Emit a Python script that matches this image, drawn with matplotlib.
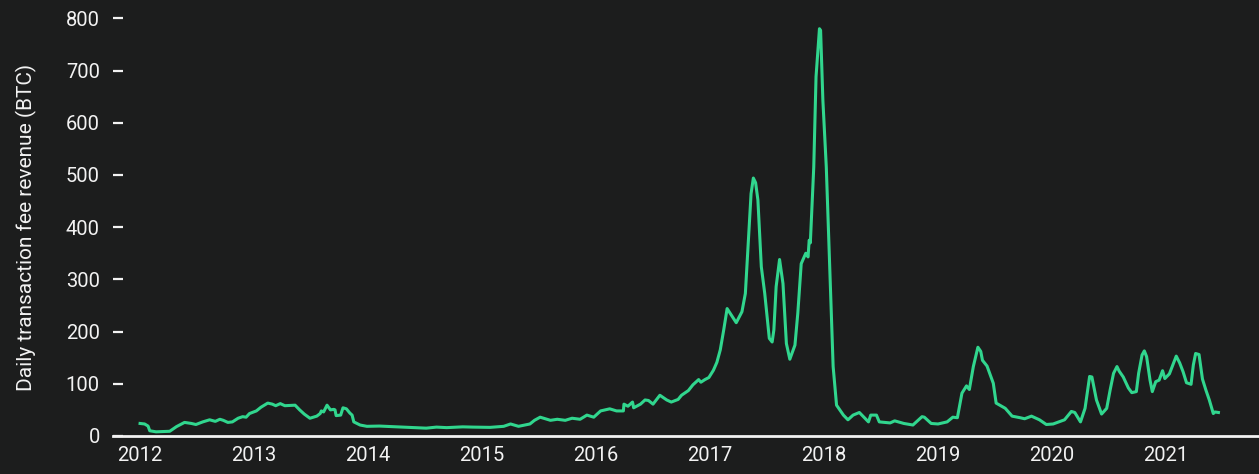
"""
Daily bitcoin transaction fee revenue, 2012-2021
"""
import matplotlib
matplotlib.use("Agg")
import matplotlib.pyplot as plt

# (decimal year, BTC)
years = [
    2012.00, 2012.04, 2012.07, 2012.085, 2012.14, 2012.26, 2012.32, 2012.39,
    2012.45, 2012.49, 2012.55, 2012.61, 2012.66, 2012.70, 2012.73, 2012.77,
    2012.81, 2012.86, 2012.90, 2012.93, 2012.96, 2013.02, 2013.06, 2013.12,
    2013.16, 2013.19, 2013.23, 2013.27, 2013.36, 2013.40, 2013.44, 2013.49,
    2013.55, 2013.58, 2013.59, 2013.61, 2013.64, 2013.67, 2013.70, 2013.71,
    2013.72, 2013.76, 2013.78, 2013.81, 2013.84, 2013.86, 2013.875, 2013.93,
    2013.99, 2014.10, 2014.25, 2014.39, 2014.51, 2014.60, 2014.69, 2014.83,
    2014.92, 2015.07, 2015.19, 2015.25, 2015.32, 2015.42, 2015.46, 2015.51,
    2015.60, 2015.66, 2015.73, 2015.79, 2015.86, 2015.92, 2015.98, 2016.04,
    2016.12, 2016.18, 2016.24, 2016.245, 2016.28, 2016.32, 2016.33, 2016.39,
    2016.43, 2016.46, 2016.50, 2016.56, 2016.62, 2016.66, 2016.72, 2016.75,
    2016.81, 2016.85, 2016.90, 2016.92, 2016.955, 2016.99, 2017.03, 2017.06,
    2017.09, 2017.12, 2017.15, 2017.23, 2017.28, 2017.31, 2017.34, 2017.36,
    2017.38, 2017.40, 2017.42, 2017.45, 2017.48, 2017.52, 2017.545, 2017.56,
    2017.58, 2017.61, 2017.64, 2017.67, 2017.70, 2017.745, 2017.77, 2017.80,
    2017.84, 2017.86, 2017.87, 2017.88, 2017.91, 2017.93, 2017.96, 2017.97,
    2017.99, 2018.02, 2018.05, 2018.08, 2018.11, 2018.17, 2018.21, 2018.255,
    2018.31, 2018.39, 2018.41, 2018.46, 2018.485, 2018.58, 2018.62, 2018.70,
    2018.78, 2018.86, 2018.88, 2018.94, 2019.00, 2019.08, 2019.13, 2019.17,
    2019.21, 2019.25, 2019.275, 2019.31, 2019.35, 2019.375, 2019.39, 2019.43,
    2019.485, 2019.51, 2019.59, 2019.65, 2019.72, 2019.76, 2019.82, 2019.89,
    2019.95, 2020.01, 2020.11, 2020.17, 2020.20, 2020.25, 2020.29, 2020.33,
    2020.35, 2020.39, 2020.435, 2020.48, 2020.51, 2020.54, 2020.57, 2020.59,
    2020.625, 2020.67, 2020.70, 2020.74, 2020.76, 2020.79, 2020.81, 2020.83,
    2020.86, 2020.88, 2020.91, 2020.94, 2020.97, 2020.99, 2021.03, 2021.06,
    2021.09, 2021.12, 2021.15, 2021.18, 2021.22, 2021.24, 2021.26, 2021.29,
    2021.32, 2021.35, 2021.38, 2021.415, 2021.43, 2021.46,
]
fees = [
    24, 23, 19, 10, 8, 9, 18, 26,
    24, 22, 27, 31, 28, 32, 30, 26,
    27, 34, 37, 36, 43, 48, 55, 63,
    61, 58, 62, 58, 59, 50, 42, 34,
    38, 43, 48, 46, 59, 50, 51, 50,
    39, 40, 54, 52, 44, 40, 27, 21,
    18.5, 19, 17.5, 16, 15, 17, 16, 17.5,
    17, 16.5, 18.5, 23, 18.5, 23, 30, 36,
    30, 32, 30, 34, 32, 40, 36, 48,
    52, 48, 48, 61, 57, 65, 54, 61,
    69, 68, 61, 78, 69, 65, 70, 78,
    87, 98, 108, 103, 108, 112, 126, 141,
    165, 203, 244, 217, 238, 273, 388, 464,
    494, 485, 452, 324, 273, 187, 180, 203,
    286, 338, 292, 177, 147, 174, 235, 330,
    350, 343, 375, 370, 515, 688, 780, 777,
    643, 515, 324, 133, 59, 40, 31, 40,
    45, 27, 40, 40, 27, 25, 29, 24,
    21, 37, 36, 24, 23, 27, 36, 35,
    82, 96, 89, 133, 170, 162, 145, 134,
    101, 63, 53, 38, 35, 33, 38, 31,
    22, 23, 31, 47, 45, 27, 53, 114,
    113, 69, 42, 53, 88, 120, 133, 124,
    113, 92, 83, 85, 120, 155, 163, 152,
    107, 85, 104, 107, 125, 110, 119, 136,
    153, 140, 123, 102, 99, 136, 158, 156,
    109, 88, 69, 43, 46, 45,
]

year_ticks = list(range(2012, 2022))
fee_ticks = list(range(0, 801, 100))

bg = '#1c1d1d'
fg = '#f2f2f2'
green = '#31d68e'

plt.rcParams['font.family'] = ['Roboto', 'DejaVu Sans']

fig = plt.figure(figsize=(12.59, 4.74), dpi=100, facecolor=bg)
ax = fig.add_axes([0.0898, 0.0802, 0.9102, 0.8812], facecolor=bg)

ax.plot(years, fees, color=green, lw=2.2, solid_joinstyle='round', clip_on=False)

ax.set_xlim(2011.763, 2021.816)
ax.set_ylim(0, 800)
ax.set_xticks(year_ticks)
ax.set_xticklabels([str(y) for y in year_ticks])
ax.set_yticks(fee_ticks)

for s in ['top', 'right', 'left']:
    ax.spines[s].set_visible(False)
ax.spines['bottom'].set_color(fg)
ax.spines['bottom'].set_linewidth(2.0)

ax.tick_params(axis='x', length=0, pad=7, colors=fg, labelsize=14.5)
ax.tick_params(axis='y', direction='in', length=7, width=1.6, pad=9.5,
               colors=fg, labelsize=14.5)

ax.set_ylabel('Daily transaction fee revenue (BTC)', color=fg, fontsize=15)
ax.yaxis.set_label_coords(-0.066, 0.5)

fig.savefig('out.png', dpi=100, facecolor=bg)
